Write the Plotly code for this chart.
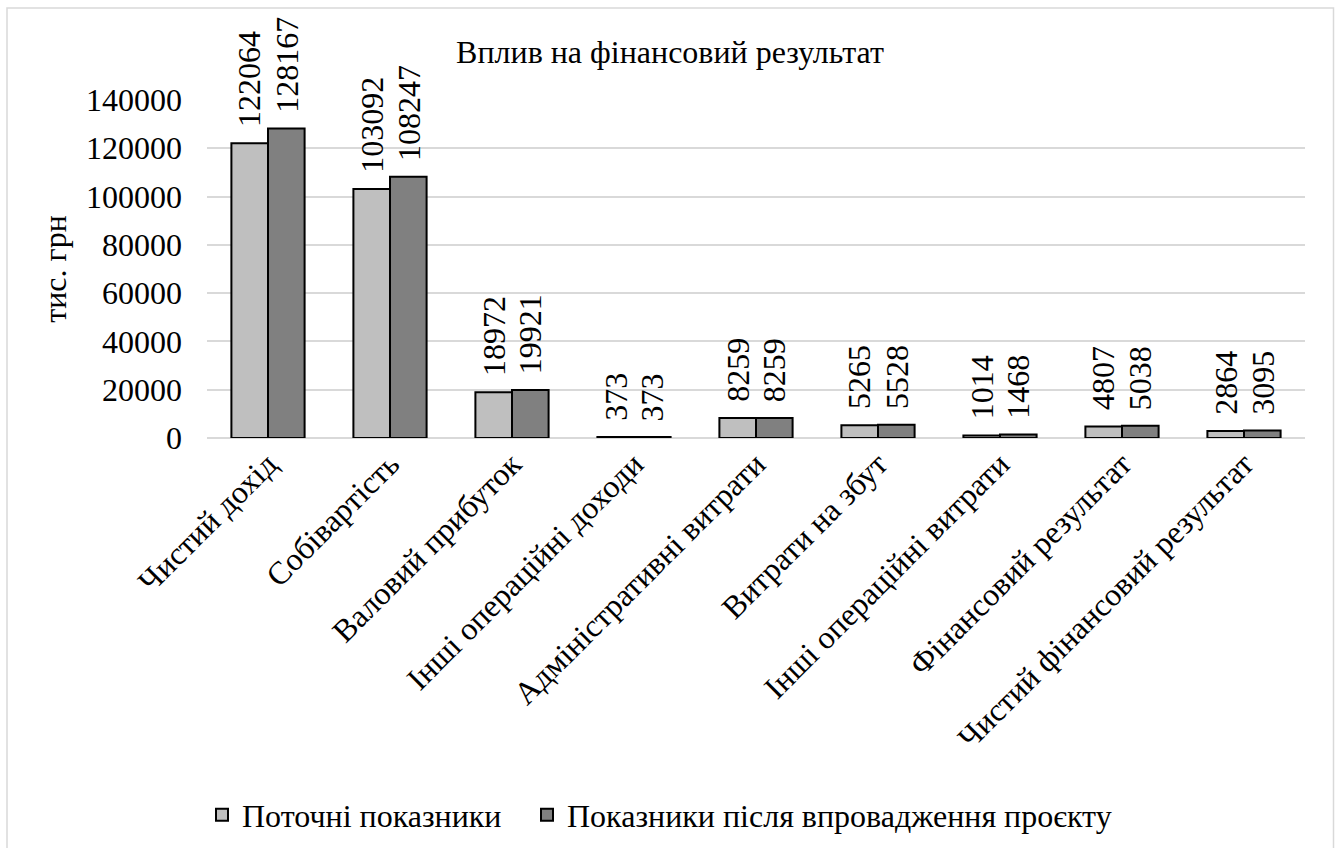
import plotly.graph_objects as go

categories = [
    "Чистий дохід",
    "Собівартість",
    "Валовий прибуток",
    "Інші операційні доходи",
    "Адміністративні витрати",
    "Витрати на збут",
    "Інші операційні витрати",
    "Фінансовий результат",
    "Чистий фінансовий результат",
]
current = [122064, 103092, 18972, 373, 8259, 5265, 1014, 4807, 2864]
after_project = [128167, 108247, 19921, 373, 8259, 5528, 1468, 5038, 3095]
series_names = ["Поточні показники", "Показники після впровадження проєкту"]
series_colors = ["#bfbfbf", "#808080"]
y_ticks = [0, 20000, 40000, 60000, 80000, 100000, 120000, 140000]

FONT = "Liberation Serif"
FS = 32
W, H = 1340, 848
M_L, M_R, M_T, M_B = 207, 35, 100, 410
BARGAP = 0.4


def tf(size=FS):
    return dict(family=FONT, size=size, color="black")


fig = go.Figure()
legend_ids = ["legend", "legend2"]
for name, vals, col, lg in zip(series_names, [current, after_project], series_colors, legend_ids):
    fig.add_trace(go.Bar(
        x=categories, y=vals, name=name, legend=lg,
        marker=dict(color=col, line=dict(color="black", width=2)),
    ))

# value labels above each bar, rotated to read bottom-to-top
half = (1 - BARGAP) / 4
for s, vals in enumerate([current, after_project]):
    off = -half if s == 0 else half
    for i, v in enumerate(vals):
        fig.add_annotation(
            x=i + off, y=v, xref="x", yref="y", text=str(v),
            showarrow=False, textangle=-90, xanchor="center", yanchor="bottom",
            yshift=14, font=tf(),
        )

# chart frame
pw = W - M_L - M_R
ph = H - M_T - M_B
fig.add_shape(
    type="rect", xref="paper", yref="paper",
    x0=(7 - M_L) / pw, x1=(1333.5 - M_L) / pw,
    y0=-(H + 20 - M_T - ph) / ph, y1=(H - M_B - 8) / ph,
    line=dict(color="#d9d9d9", width=1.5), fillcolor="rgba(0,0,0,0)", layer="below",
)


def legend_box(x_px):
    return dict(orientation="h", xref="container", yref="container",
                x=x_px / W, xanchor="left", y=1 - 815 / H, yanchor="middle",
                font=tf(), itemwidth=30, bgcolor="rgba(0,0,0,0)")


fig.update_layout(
    width=W, height=H, autosize=False,
    margin=dict(l=M_L, r=M_R, t=M_T, b=M_B, pad=0),
    paper_bgcolor="white", plot_bgcolor="white",
    barmode="group", bargap=BARGAP, bargroupgap=0,
    title=dict(text="Вплив на фінансовий результат", x=0.5, xref="container",
               xanchor="center", y=1 - 52 / H, yref="container", yanchor="middle",
               font=tf()),
    legend=legend_box(202),
    legend2=legend_box(527),
    showlegend=True,
)
fig.update_xaxes(
    type="category", tickangle=-45, automargin=False, showgrid=False,
    showline=False, ticks="", tickfont=tf(),
)
fig.update_yaxes(
    range=[0, 140000], tickvals=y_ticks, ticktext=[str(t) for t in y_ticks],
    automargin=False,
    showgrid=True, gridcolor="#d9d9d9", gridwidth=1.5,
    zeroline=True, zerolinecolor="#d9d9d9", zerolinewidth=1.5,
    showline=False, ticks="", ticklabelstandoff=24,
    tickfont=tf(),
    title=dict(text="тис. грн", standoff=9, font=tf()),
)

fig.write_html("out.html")
